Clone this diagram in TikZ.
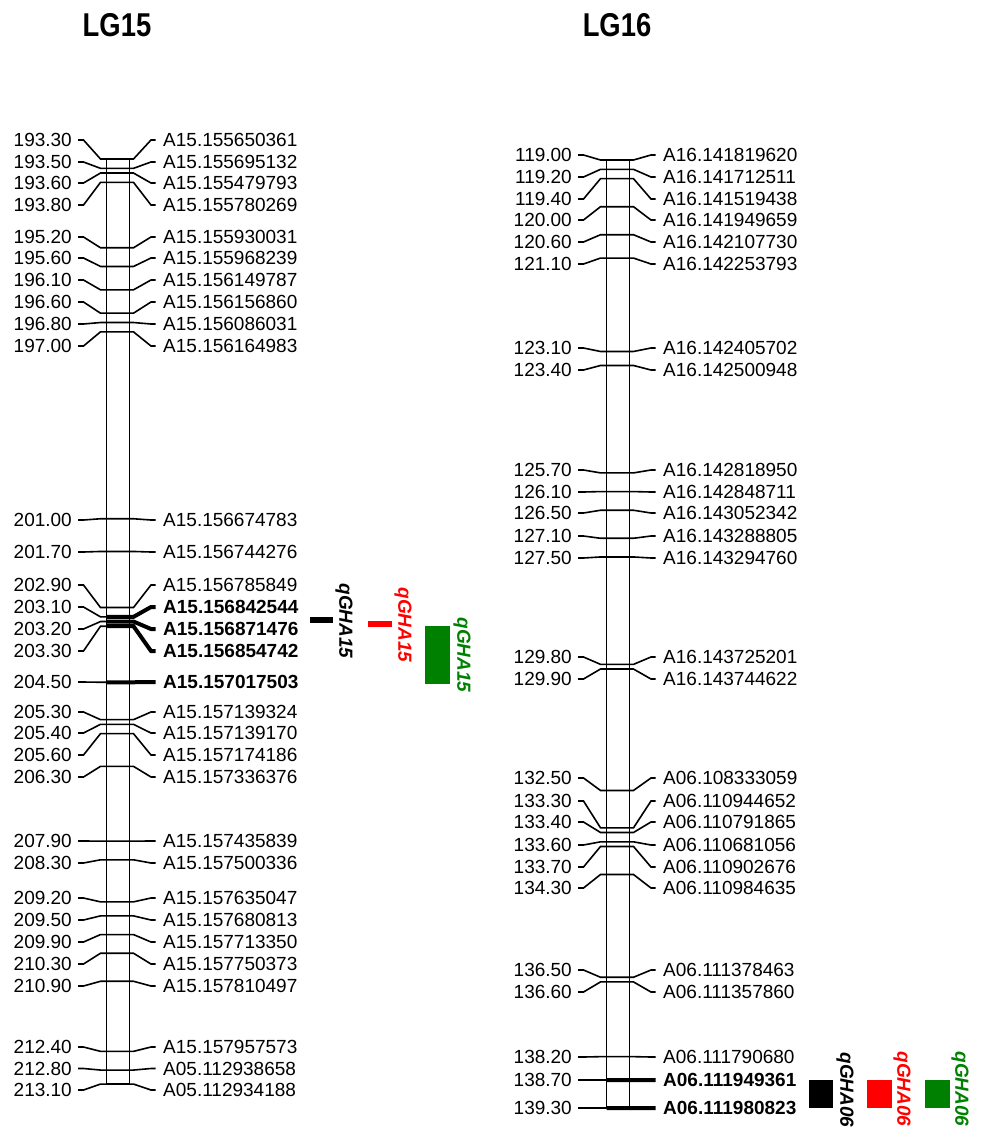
\documentclass[tikz,border=0pt]{standalone}
\usepackage{fontspec}
\setmainfont{Liberation Sans}
\usetikzlibrary{calc}
\definecolor{qred}{RGB}{255,0,0}
\definecolor{qgreen}{RGB}{0,128,0}
\tikzset{
  lab/.style={font=\fontsize{19}{19}\selectfont, inner sep=0pt},
  labb/.style={font=\fontsize{19}{19}\selectfont\bfseries, inner sep=0pt},
  ln/.style={line width=1.6pt, line join=miter},
  thk/.style={line width=4pt},
  chr/.style={line width=1.7pt},
  ttl/.style={font=\fontsize{33}{33}\selectfont\bfseries, inner sep=0pt},
  qtxt/.style={font=\fontsize{19}{19}\selectfont\bfseries\itshape, inner sep=0pt, rotate=-90},
  qbox/.style={inner sep=0pt, draw=none}
}
\newcommand{\mkN}[4]{%
  \node[lab,anchor=east] (#1l) at ({\xo+72},#3) {#2};
  \node[lab,anchor=west] (#1r) at ({\xo+163},#3) {#4};
  \coordinate (#1p) at ({\xo+106.5},{\yz+(#2-\cz)*\sc});
  \coordinate (#1q) at ({\xo+129.5},{\yz+(#2-\cz)*\sc});
  \draw[ln] ([xshift=6pt]#1l.east) -- ([xshift=11.5pt]#1l.east) -- ([xshift=-6pt]#1p) -- (#1p) -- (#1q) -- ([xshift=4pt]#1q) -- ([xshift=-12pt]#1r.west) -- ([xshift=-7.5pt]#1r.west);
}
\newcommand{\mkB}[4]{%
  \node[lab,anchor=east] (#1l) at ({\xo+72},#3) {#2};
  \node[labb,anchor=west] (#1r) at ({\xo+163},#3) {#4};
  \coordinate (#1p) at ({\xo+106.5},{\yz+(#2-\cz)*\sc});
  \coordinate (#1q) at ({\xo+129.5},{\yz+(#2-\cz)*\sc});
  \draw[ln] ([xshift=6pt]#1l.east) -- ([xshift=11.5pt]#1l.east) -- ([xshift=-6pt]#1p) -- (#1p);
  \draw[thk] (#1p) -- (#1q) -- ([xshift=4pt]#1q) -- ([xshift=-12pt]#1r.west) -- ([xshift=-7.5pt]#1r.west);
}
\begin{document}
\begin{tikzpicture}[x=1pt,y=-1pt]
\useasboundingbox (0,0) rectangle (981,1133);
\fill[white] (0,0) rectangle (981,1133);
% titles
\node[ttl] (t15) at (117,25) {\scalebox{0.83}[1]{LG15}};
\node[ttl] (t16) at (617,25) {\scalebox{0.83}[1]{LG16}};
% ---------------- LG15 ----------------
\def\xo{0}\def\yz{159}\def\cz{193.3}\def\sc{46.72}
\coordinate (c15a) at (106.5,159);
\coordinate (c15b) at (129.5,1084);
\draw[chr] (c15a) rectangle (c15b);
\mkN{a1}{193.30}{140}{A15.155650361}
\mkN{a2}{193.50}{162}{A15.155695132}
\mkN{a3}{193.60}{183}{A15.155479793}
\mkN{a4}{193.80}{205}{A15.155780269}
\mkN{a5}{195.20}{237}{A15.155930031}
\mkN{a6}{195.60}{258}{A15.155968239}
\mkN{a7}{196.10}{280}{A15.156149787}
\mkN{a8}{196.60}{302}{A15.156156860}
\mkN{a9}{196.80}{324}{A15.156086031}
\mkN{a10}{197.00}{346}{A15.156164983}
\mkN{a11}{201.00}{520}{A15.156674783}
\mkN{a12}{201.70}{552}{A15.156744276}
\mkN{a13}{202.90}{585}{A15.156785849}
\mkB{a14}{203.10}{607}{A15.156842544}
\mkB{a15}{203.20}{629}{A15.156871476}
\mkB{a16}{203.30}{651}{A15.156854742}
\mkB{a17}{204.50}{682}{A15.157017503}
\mkN{a18}{205.30}{712}{A15.157139324}
\mkN{a19}{205.40}{733}{A15.157139170}
\mkN{a20}{205.60}{755}{A15.157174186}
\mkN{a21}{206.30}{777}{A15.157336376}
\mkN{a22}{207.90}{841}{A15.157435839}
\mkN{a23}{208.30}{863}{A15.157500336}
\mkN{a24}{209.20}{898}{A15.157635047}
\mkN{a25}{209.50}{920}{A15.157680813}
\mkN{a26}{209.90}{942}{A15.157713350}
\mkN{a27}{210.30}{964}{A15.157750373}
\mkN{a28}{210.90}{986}{A15.157810497}
\mkN{a29}{212.40}{1047}{A15.157957573}
\mkN{a30}{212.80}{1068.5}{A05.112938658}
\mkN{a31}{213.10}{1090}{A05.112934188}
% QTL LG15
\node[qbox, fill=black, minimum width=23pt, minimum height=6pt] (q15k) at (321.5,620) {};
\node[qtxt, text=black] (q15kt) at (344,621) {qGHA15};
\node[qbox, fill=qred, minimum width=24pt, minimum height=6pt] (q15r) at (380,624) {};
\node[qtxt, text=qred] (q15rt) at (403,625) {qGHA15};
\node[qbox, fill=qgreen, minimum width=25pt, minimum height=58pt] (q15g) at (437.5,655) {};
\node[qtxt, text=qgreen] (q15gt) at (462,655) {qGHA15};
% ---------------- LG16 ----------------
\def\xo{500}\def\yz{160}\def\cz{119}\def\sc{46.7}
\coordinate (c16a) at (606.5,160);
\coordinate (c16b) at (629.5,1108);
\draw[chr] (c16a) rectangle (c16b);
\mkN{b1}{119.00}{155}{A16.141819620}
\mkN{b2}{119.20}{177}{A16.141712511}
\mkN{b3}{119.40}{199}{A16.141519438}
\mkN{b4}{120.00}{220}{A16.141949659}
\mkN{b5}{120.60}{242}{A16.142107730}
\mkN{b6}{121.10}{264}{A16.142253793}
\mkN{b7}{123.10}{348}{A16.142405702}
\mkN{b8}{123.40}{370}{A16.142500948}
\mkN{b9}{125.70}{470}{A16.142818950}
\mkN{b10}{126.10}{492}{A16.142848711}
\mkN{b11}{126.50}{513}{A16.143052342}
\mkN{b12}{127.10}{536}{A16.143288805}
\mkN{b13}{127.50}{558}{A16.143294760}
\mkN{b14}{129.80}{657}{A16.143725201}
\mkN{b15}{129.90}{679}{A16.143744622}
\mkN{b16}{132.50}{778}{A06.108333059}
\mkN{b17}{133.30}{801}{A06.110944652}
\mkN{b18}{133.40}{822}{A06.110791865}
\mkN{b19}{133.60}{845}{A06.110681056}
\mkN{b20}{133.70}{867}{A06.110902676}
\mkN{b21}{134.30}{888}{A06.110984635}
\mkN{b22}{136.50}{970}{A06.111378463}
\mkN{b23}{136.60}{992}{A06.111357860}
\mkN{b24}{138.20}{1057}{A06.111790680}
\mkB{b25}{138.70}{1080}{A06.111949361}
\mkB{b26}{139.30}{1108}{A06.111980823}
% QTL LG16
\node[qbox, fill=black, minimum width=24pt, minimum height=28pt] (q16k) at (821,1094) {};
\node[qtxt, text=black] (q16kt) at (845,1090) {qGHA06};
\node[qbox, fill=qred, minimum width=25pt, minimum height=28pt] (q16r) at (879,1094) {};
\node[qtxt, text=qred] (q16rt) at (902,1089) {qGHA06};
\node[qbox, fill=qgreen, minimum width=25pt, minimum height=28pt] (q16g) at (937.5,1094) {};
\node[qtxt, text=qgreen] (q16gt) at (960,1089) {qGHA06};
\end{tikzpicture}
\end{document}
